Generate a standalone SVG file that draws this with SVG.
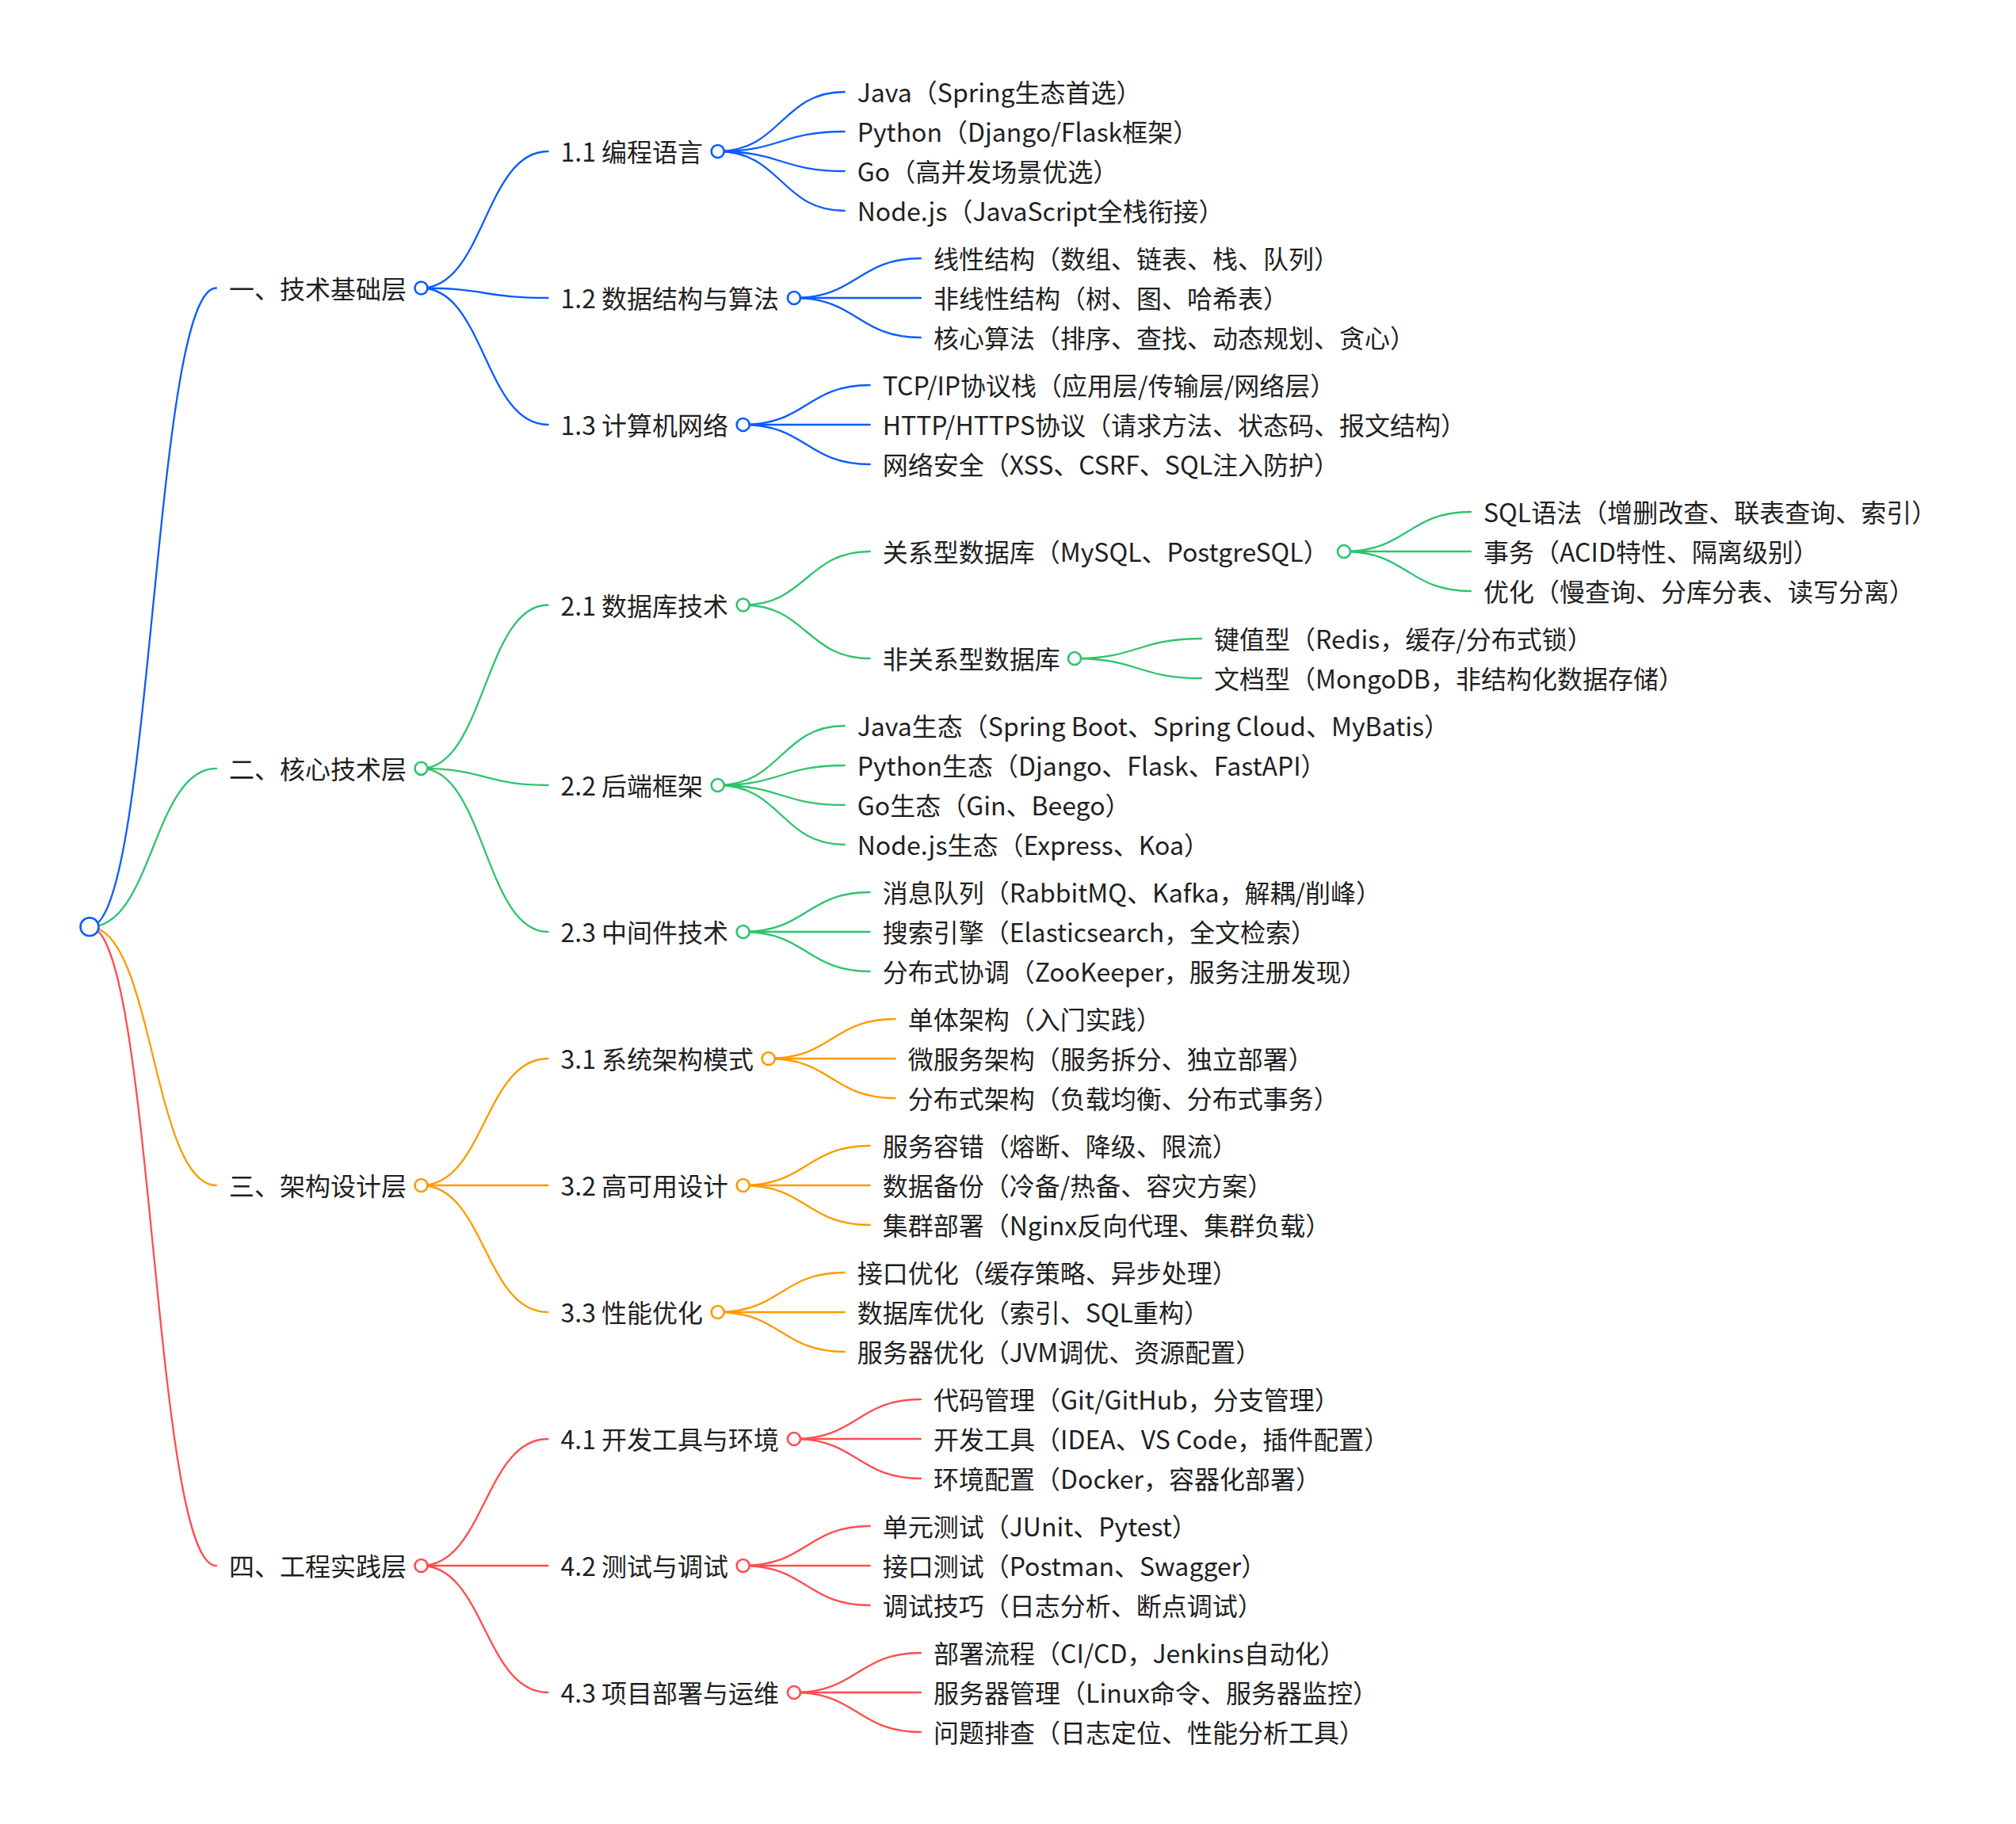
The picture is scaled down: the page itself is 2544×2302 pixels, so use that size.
<svg xmlns="http://www.w3.org/2000/svg" width="2544" height="2302" viewBox="0 0 2544 2302">
<style>
.t{font-family:"Noto Sans CJK SC","Noto Sans",sans-serif;font-size:32px;fill:#1f1f1f}
.e{fill:none;stroke-width:2.3;stroke-linecap:round}
.c{fill:#ffffff;stroke-width:2.6}
.b{stroke:#0a5cff}.g{stroke:#2dc46e}.o{stroke:#ff9a00}.r{stroke:#ff4d4f}
</style>
<rect width="2544" height="2302" fill="#ffffff"/>
<g id="connectors">
<g class="e b">
<path d="M113 1169.8C193 1169.8 193 363.5 273 363.5"/>
<path d="M531.5 363.5C611.5 363.5 611.5 191 691.5 191"/>
<path d="M531.5 363.5C611.5 363.5 611.5 376 691.5 376"/>
<path d="M531.5 363.5C611.5 363.5 611.5 536 691.5 536"/>
<path d="M905.7 191C985.7 191 985.7 116 1065.7 116"/>
<path d="M905.7 191C985.7 191 985.7 166 1065.7 166"/>
<path d="M905.7 191C985.7 191 985.7 216 1065.7 216"/>
<path d="M905.7 191C985.7 191 985.7 266 1065.7 266"/>
<path d="M1002 376C1082 376 1082 326 1162 326"/>
<path d="M1002 376C1082 376 1082 376 1162 376"/>
<path d="M1002 376C1082 376 1082 426 1162 426"/>
<path d="M937.7 536C1017.7 536 1017.7 486 1097.7 486"/>
<path d="M937.7 536C1017.7 536 1017.7 536 1097.7 536"/>
<path d="M937.7 536C1017.7 536 1017.7 586 1097.7 586"/>
</g>
<g class="e g">
<path d="M113 1169.8C193 1169.8 193 969.8 273 969.8"/>
<path d="M531.5 969.8C611.5 969.8 611.5 763.5 691.5 763.5"/>
<path d="M531.5 969.8C611.5 969.8 611.5 991 691.5 991"/>
<path d="M531.5 969.8C611.5 969.8 611.5 1176 691.5 1176"/>
<path d="M937.7 763.5C1017.7 763.5 1017.7 696 1097.7 696"/>
<path d="M937.7 763.5C1017.7 763.5 1017.7 831 1097.7 831"/>
<path d="M1696 696C1776 696 1776 646 1856 646"/>
<path d="M1696 696C1776 696 1776 696 1856 696"/>
<path d="M1696 696C1776 696 1776 746 1856 746"/>
<path d="M1356 831C1436 831 1436 806 1516 806"/>
<path d="M1356 831C1436 831 1436 856 1516 856"/>
<path d="M905.7 991C985.7 991 985.7 916 1065.7 916"/>
<path d="M905.7 991C985.7 991 985.7 966 1065.7 966"/>
<path d="M905.7 991C985.7 991 985.7 1016 1065.7 1016"/>
<path d="M905.7 991C985.7 991 985.7 1066 1065.7 1066"/>
<path d="M937.7 1176C1017.7 1176 1017.7 1126 1097.7 1126"/>
<path d="M937.7 1176C1017.7 1176 1017.7 1176 1097.7 1176"/>
<path d="M937.7 1176C1017.7 1176 1017.7 1226 1097.7 1226"/>
</g>
<g class="e o">
<path d="M113 1169.8C193 1169.8 193 1496 273 1496"/>
<path d="M531.5 1496C611.5 1496 611.5 1336 691.5 1336"/>
<path d="M531.5 1496C611.5 1496 611.5 1496 691.5 1496"/>
<path d="M531.5 1496C611.5 1496 611.5 1656 691.5 1656"/>
<path d="M969.7 1336C1049.7 1336 1049.7 1286 1129.7 1286"/>
<path d="M969.7 1336C1049.7 1336 1049.7 1336 1129.7 1336"/>
<path d="M969.7 1336C1049.7 1336 1049.7 1386 1129.7 1386"/>
<path d="M937.7 1496C1017.7 1496 1017.7 1446 1097.7 1446"/>
<path d="M937.7 1496C1017.7 1496 1017.7 1496 1097.7 1496"/>
<path d="M937.7 1496C1017.7 1496 1017.7 1546 1097.7 1546"/>
<path d="M905.7 1656C985.7 1656 985.7 1606 1065.7 1606"/>
<path d="M905.7 1656C985.7 1656 985.7 1656 1065.7 1656"/>
<path d="M905.7 1656C985.7 1656 985.7 1706 1065.7 1706"/>
</g>
<g class="e r">
<path d="M113 1169.8C193 1169.8 193 1976 273 1976"/>
<path d="M531.5 1976C611.5 1976 611.5 1816 691.5 1816"/>
<path d="M531.5 1976C611.5 1976 611.5 1976 691.5 1976"/>
<path d="M531.5 1976C611.5 1976 611.5 2136 691.5 2136"/>
<path d="M1002 1816C1082 1816 1082 1766 1162 1766"/>
<path d="M1002 1816C1082 1816 1082 1816 1162 1816"/>
<path d="M1002 1816C1082 1816 1082 1866 1162 1866"/>
<path d="M937.7 1976C1017.7 1976 1017.7 1926 1097.7 1926"/>
<path d="M937.7 1976C1017.7 1976 1017.7 1976 1097.7 1976"/>
<path d="M937.7 1976C1017.7 1976 1017.7 2026 1097.7 2026"/>
<path d="M1002 2136C1082 2136 1082 2086 1162 2086"/>
<path d="M1002 2136C1082 2136 1082 2136 1162 2136"/>
<path d="M1002 2136C1082 2136 1082 2186 1162 2186"/>
</g>
</g>
<g id="root"><circle class="c b" cx="113" cy="1169.8" r="11.5"/></g>

<g id="n1"><text class="t" x="289" y="376.5">一、技术基础层</text><circle class="c b" cx="531.5" cy="363.5" r="8"/></g>
<g id="n1-1"><text class="t" x="707.5" y="204">1.1 编程语言</text><circle class="c b" cx="905.7" cy="191" r="8"/></g>
<g id="n1-1-1"><text class="t" x="1081.7" y="129">Java（Spring生态首选）</text></g>
<g id="n1-1-2"><text class="t" x="1081.7" y="179">Python（Django/Flask框架）</text></g>
<g id="n1-1-3"><text class="t" x="1081.7" y="229">Go（高并发场景优选）</text></g>
<g id="n1-1-4"><text class="t" x="1081.7" y="279">Node.js（JavaScript全栈衔接）</text></g>
<g id="n1-2"><text class="t" x="707.5" y="389">1.2 数据结构与算法</text><circle class="c b" cx="1002" cy="376" r="8"/></g>
<g id="n1-2-1"><text class="t" x="1178" y="339">线性结构（数组、链表、栈、队列）</text></g>
<g id="n1-2-2"><text class="t" x="1178" y="389">非线性结构（树、图、哈希表）</text></g>
<g id="n1-2-3"><text class="t" x="1178" y="439">核心算法（排序、查找、动态规划、贪心）</text></g>
<g id="n1-3"><text class="t" x="707.5" y="549">1.3 计算机网络</text><circle class="c b" cx="937.7" cy="536" r="8"/></g>
<g id="n1-3-1"><text class="t" x="1113.7" y="499">TCP/IP协议栈（应用层/传输层/网络层）</text></g>
<g id="n1-3-2"><text class="t" x="1113.7" y="549">HTTP/HTTPS协议（请求方法、状态码、报文结构）</text></g>
<g id="n1-3-3"><text class="t" x="1113.7" y="599">网络安全（XSS、CSRF、SQL注入防护）</text></g>

<g id="n2"><text class="t" x="289" y="982.8">二、核心技术层</text><circle class="c g" cx="531.5" cy="969.8" r="8"/></g>
<g id="n2-1"><text class="t" x="707.5" y="776.5">2.1 数据库技术</text><circle class="c g" cx="937.7" cy="763.5" r="8"/></g>
<g id="n2-1-1"><text class="t" x="1113.7" y="709">关系型数据库（MySQL、PostgreSQL）</text><circle class="c g" cx="1696" cy="696" r="8"/></g>
<g id="n2-1-1-1"><text class="t" x="1872" y="659">SQL语法（增删改查、联表查询、索引）</text></g>
<g id="n2-1-1-2"><text class="t" x="1872" y="709">事务（ACID特性、隔离级别）</text></g>
<g id="n2-1-1-3"><text class="t" x="1872" y="759">优化（慢查询、分库分表、读写分离）</text></g>
<g id="n2-1-2"><text class="t" x="1113.7" y="844">非关系型数据库</text><circle class="c g" cx="1356" cy="831" r="8"/></g>
<g id="n2-1-2-1"><text class="t" x="1532" y="819">键值型（Redis，缓存/分布式锁）</text></g>
<g id="n2-1-2-2"><text class="t" x="1532" y="869">文档型（MongoDB，非结构化数据存储）</text></g>
<g id="n2-2"><text class="t" x="707.5" y="1004">2.2 后端框架</text><circle class="c g" cx="905.7" cy="991" r="8"/></g>
<g id="n2-2-1"><text class="t" x="1081.7" y="929">Java生态（Spring Boot、Spring Cloud、MyBatis）</text></g>
<g id="n2-2-2"><text class="t" x="1081.7" y="979">Python生态（Django、Flask、FastAPI）</text></g>
<g id="n2-2-3"><text class="t" x="1081.7" y="1029">Go生态（Gin、Beego）</text></g>
<g id="n2-2-4"><text class="t" x="1081.7" y="1079">Node.js生态（Express、Koa）</text></g>
<g id="n2-3"><text class="t" x="707.5" y="1189">2.3 中间件技术</text><circle class="c g" cx="937.7" cy="1176" r="8"/></g>
<g id="n2-3-1"><text class="t" x="1113.7" y="1139">消息队列（RabbitMQ、Kafka，解耦/削峰）</text></g>
<g id="n2-3-2"><text class="t" x="1113.7" y="1189">搜索引擎（Elasticsearch，全文检索）</text></g>
<g id="n2-3-3"><text class="t" x="1113.7" y="1239">分布式协调（ZooKeeper，服务注册发现）</text></g>

<g id="n3"><text class="t" x="289" y="1509">三、架构设计层</text><circle class="c o" cx="531.5" cy="1496" r="8"/></g>
<g id="n3-1"><text class="t" x="707.5" y="1349">3.1 系统架构模式</text><circle class="c o" cx="969.7" cy="1336" r="8"/></g>
<g id="n3-1-1"><text class="t" x="1145.7" y="1299">单体架构（入门实践）</text></g>
<g id="n3-1-2"><text class="t" x="1145.7" y="1349">微服务架构（服务拆分、独立部署）</text></g>
<g id="n3-1-3"><text class="t" x="1145.7" y="1399">分布式架构（负载均衡、分布式事务）</text></g>
<g id="n3-2"><text class="t" x="707.5" y="1509">3.2 高可用设计</text><circle class="c o" cx="937.7" cy="1496" r="8"/></g>
<g id="n3-2-1"><text class="t" x="1113.7" y="1459">服务容错（熔断、降级、限流）</text></g>
<g id="n3-2-2"><text class="t" x="1113.7" y="1509">数据备份（冷备/热备、容灾方案）</text></g>
<g id="n3-2-3"><text class="t" x="1113.7" y="1559">集群部署（Nginx反向代理、集群负载）</text></g>
<g id="n3-3"><text class="t" x="707.5" y="1669">3.3 性能优化</text><circle class="c o" cx="905.7" cy="1656" r="8"/></g>
<g id="n3-3-1"><text class="t" x="1081.7" y="1619">接口优化（缓存策略、异步处理）</text></g>
<g id="n3-3-2"><text class="t" x="1081.7" y="1669">数据库优化（索引、SQL重构）</text></g>
<g id="n3-3-3"><text class="t" x="1081.7" y="1719">服务器优化（JVM调优、资源配置）</text></g>

<g id="n4"><text class="t" x="289" y="1989">四、工程实践层</text><circle class="c r" cx="531.5" cy="1976" r="8"/></g>
<g id="n4-1"><text class="t" x="707.5" y="1829">4.1 开发工具与环境</text><circle class="c r" cx="1002" cy="1816" r="8"/></g>
<g id="n4-1-1"><text class="t" x="1178" y="1779">代码管理（Git/GitHub，分支管理）</text></g>
<g id="n4-1-2"><text class="t" x="1178" y="1829">开发工具（IDEA、VS Code，插件配置）</text></g>
<g id="n4-1-3"><text class="t" x="1178" y="1879">环境配置（Docker，容器化部署）</text></g>
<g id="n4-2"><text class="t" x="707.5" y="1989">4.2 测试与调试</text><circle class="c r" cx="937.7" cy="1976" r="8"/></g>
<g id="n4-2-1"><text class="t" x="1113.7" y="1939">单元测试（JUnit、Pytest）</text></g>
<g id="n4-2-2"><text class="t" x="1113.7" y="1989">接口测试（Postman、Swagger）</text></g>
<g id="n4-2-3"><text class="t" x="1113.7" y="2039">调试技巧（日志分析、断点调试）</text></g>
<g id="n4-3"><text class="t" x="707.5" y="2149">4.3 项目部署与运维</text><circle class="c r" cx="1002" cy="2136" r="8"/></g>
<g id="n4-3-1"><text class="t" x="1178" y="2099">部署流程（CI/CD，Jenkins自动化）</text></g>
<g id="n4-3-2"><text class="t" x="1178" y="2149">服务器管理（Linux命令、服务器监控）</text></g>
<g id="n4-3-3"><text class="t" x="1178" y="2199">问题排查（日志定位、性能分析工具）</text></g>
</svg>
